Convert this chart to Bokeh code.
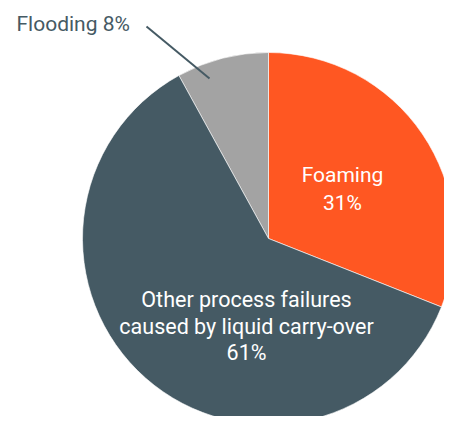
import math
from bokeh.plotting import figure
from bokeh.models import Range1d, ColumnDataSource
from bokeh.core.properties import value
from bokeh.embed import file_html
from bokeh.resources import INLINE

categories = ["Foaming", "Flooding", "Other process failures caused by liquid carry-over"]
values = [31, 8, 61]
colors = ["#FF5722", "#A3A3A3", "#455A64"]

# wedge angles: Foaming clockwise from 12 o'clock, Flooding counter-clockwise from 12 o'clock
total = sum(values)
frac = [v / total * 2 * math.pi for v in values]
top = math.pi / 2
starts = [top - frac[0], top, top + frac[1]]
ends = [top, top + frac[1], top + frac[1] + frac[2]]

W, H = 444, 416
p = figure(width=W, height=H, output_backend="svg", toolbar_location=None,
           x_range=Range1d(0, W), y_range=Range1d(0, H), min_border=0)
p.axis.visible = False
p.grid.visible = False
p.outline_line_color = None
p.background_fill_color = "white"

def Y(py):
    return H - py

src = ColumnDataSource(dict(cat=categories, val=values, color=colors, start=starts, end=ends))
cx, cy, R = 268, Y(238), 186
p.wedge(x=cx, y=cy, radius=R, start_angle="start", end_angle="end", fill_color="color",
        line_color="white", line_width=0.6, source=src)

font = value("Roboto")
# inside labels
p.text(x=[342, 342], y=[Y(174), Y(202)], text=["Foaming", "31%"],
       text_color="white", text_font=font, text_font_size="21px",
       text_align="center", text_baseline="middle")
p.text(x=[246, 246, 246], y=[Y(299), Y(326), Y(352)],
       text=["Other process failures", "caused by liquid carry-over", "61%"],
       text_color="white", text_font=font, text_font_size="21.5px",
       text_align="center", text_baseline="middle")
# outside label with leader
p.text(x=[16], y=[Y(23)], text=["Flooding 8%"], text_color="#455A64",
       text_font=font, text_font_size="21px", text_align="left", text_baseline="middle")
p.line(x=[146, 209], y=[Y(26), Y(78)], line_color="#455A64", line_width=2)

open("out.html", "w").write(file_html(p, INLINE))
